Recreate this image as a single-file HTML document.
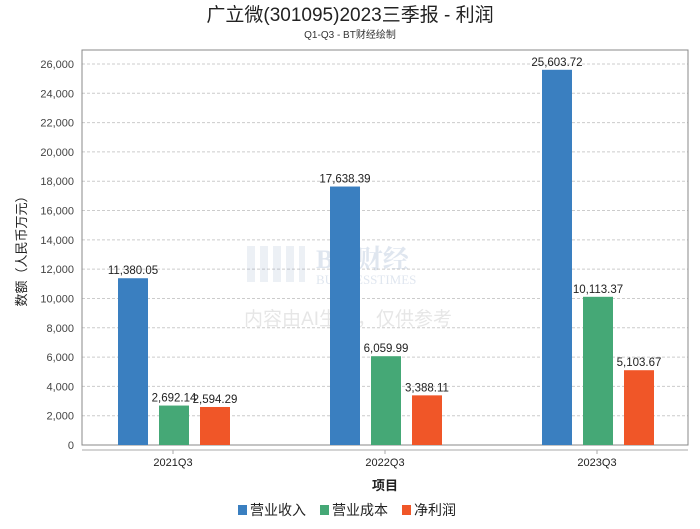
<!DOCTYPE html>
<html><head><meta charset="utf-8"><style>
body{margin:0;background:#fff;font-family:"Liberation Sans","Noto Sans CJK SC",sans-serif;}
</style></head><body>
<svg width="700" height="524" xmlns="http://www.w3.org/2000/svg" font-family="Liberation Sans, Noto Sans CJK SC, sans-serif">
<text x="350" y="21" text-anchor="middle" font-size="19" fill="#222">广立微(301095)2023三季报 - 利润</text>
<text x="350" y="38" text-anchor="middle" font-size="10" fill="#333">Q1-Q3 - BT财经绘制</text>
<g id="grid"></g>
<rect x="82" y="50" width="606" height="395" fill="none" stroke="#888"/>
<line x1="82" y1="450" x2="688" y2="450" stroke="#aaa"/>
<g opacity="0.18">
<g fill="#5577aa" opacity="0.6">
<rect x="247" y="246" width="8" height="36"/><rect x="260" y="246" width="8" height="36"/><rect x="273" y="246" width="8" height="36"/><rect x="286" y="246" width="8" height="36"/><rect x="299" y="246" width="6" height="36"/>
</g>
<text x="316" y="268" font-size="26" font-weight="bold" fill="#5577aa" font-family="Liberation Serif, Noto Serif CJK SC, serif">BT 财经</text>
<text x="316" y="284" font-size="13" fill="#5577aa" font-family="Liberation Serif, serif">BUSINESSTIMES</text>
<text x="348" y="325" text-anchor="middle" font-size="19" fill="#777">内容由AI生成，仅供参考</text>
</g>
<g id="bars"></g>
<text transform="translate(26,248) rotate(-90)" text-anchor="middle" font-size="13" fill="#222">数额（人民币万元）</text>
<text x="385" y="490" text-anchor="middle" font-size="13" font-weight="bold" fill="#222">项目</text>
<g id="legend"></g>
<script>
const categories=["2021Q3","2022Q3","2023Q3"];
const seriesNames=["营业收入","营业成本","净利润"];
const revenue=[11380.05,17638.39,25603.72];
const cost=[2692.14,6059.99,10113.37];
const profit=[2594.29,3388.11,5103.67];
const yTicks=[0,2000,4000,6000,8000,10000,12000,14000,16000,18000,20000,22000,24000,26000];
const colors=["#3a7fc0","#45a876","#f05628"];
const NS="http://www.w3.org/2000/svg";
function y(v){return 445-v*(381/26000);}
function gx(i){return 173+i*212;}
function mk(t,a,p){const e=document.createElementNS(NS,t);for(const k in a)e.setAttribute(k,a[k]);p.appendChild(e);return e;}
const grid=document.getElementById('grid');
yTicks.forEach(v=>{
 if(v>0){const l=mk('line',{x1:82,x2:688,y1:y(v),y2:y(v),stroke:'#ccc','stroke-dasharray':'3,2'},grid);
 
 }
 const t=mk('text',{x:74,y:y(v)+4,'text-anchor':'end','font-size':11,fill:'#444'},grid);t.textContent=v.toLocaleString('en-US');
 
 
});
const bars=document.getElementById('bars');
const series=[revenue,cost,profit];
categories.forEach((c,i)=>{
 series.forEach((s,j)=>{
  const x=gx(i)-55+j*41;
  const r=mk('rect',{x:x,y:y(s[i]),width:30,height:445-y(s[i]),fill:colors[j]},bars);
  
  
  const t=mk('text',{x:x+15,y:y(s[i])-4,'text-anchor':'middle','font-size':11.5,fill:'#222'},bars);
  t.textContent=s[i].toLocaleString('en-US',{minimumFractionDigits:2,maximumFractionDigits:2});
  
  
 });
 const t=mk('text',{x:gx(i),y:466,'text-anchor':'middle','font-size':11,fill:'#222'},bars);t.textContent=c;
 
 
 mk('line',{x1:gx(i),x2:gx(i),y1:450,y2:454,stroke:'#aaa'},bars);
});
const lg=document.getElementById('legend');
const lx=[238,320,402];
seriesNames.forEach((n,j)=>{
 const g=mk('g',{},lg);
 
 
 mk('rect',{x:lx[j],y:505,width:9,height:10,fill:colors[j]},g);
 const t=mk('text',{x:lx[j]+12,y:515,'font-size':14,fill:'#222'},g);t.textContent=n;
});
</script>
</svg>
</body></html>
